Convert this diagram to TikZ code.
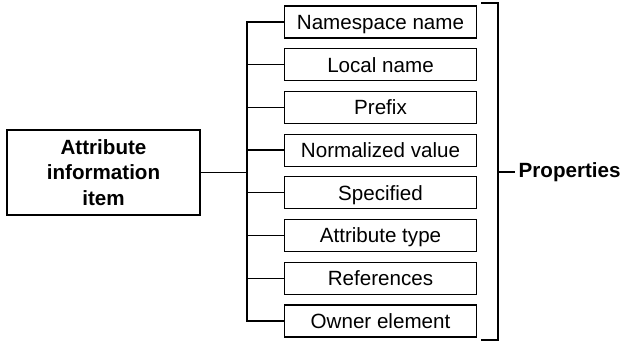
\documentclass[tikz,border=0pt]{standalone}
\usepackage{fontspec}
\setmainfont{Liberation Sans}
\begin{document}
\begin{tikzpicture}[x=1pt,y=-1pt,
  every node/.style={font=\fontsize{20.6}{25.5}\selectfont},
  itembox/.style={draw, line width=1.7pt, minimum width=193pt, minimum height=85pt,
    inner sep=0pt, align=center, font=\fontsize{20.6}{25.5}\selectfont\bfseries},
  propbox/.style={draw, line width=1.2pt, minimum width=192.4pt, minimum height=32pt,
    inner sep=0pt, text height=14.75pt, text depth=0pt},
  link/.style={line width=1.3pt},
  bracket/.style={line width=2pt}]
\useasboundingbox (0,0) rectangle (621,341);

% the item and its list of properties
\node[itembox] (item) at (103.5,172.5) {Attribute\\information\\item};
\foreach \i/\txt in {1/Namespace name, 2/Local name, 3/Prefix, 4/Normalized value,
                     5/Specified, 6/Attribute type, 7/References, 8/Owner element}
  \node[propbox] (p\i) at (380.5,{22+42.7*(\i-1)}) {\txt};

% tree connectors
\coordinate (trunkx) at (247,0);
\draw[link] (item.east) -- (item.east -| trunkx);
\draw[link] (p1.west) -- (p1.west -| trunkx) -- (p8.west -| trunkx) -- (p8.west);
\foreach \i in {2,...,7}
  \draw[link] (p\i.west) -- (p\i.west -| trunkx);

% bracket grouping the properties
\coordinate (brtop) at (481,3);
\coordinate (brbot) at (481,340);
\coordinate (brmid) at (498,172);
\draw[bracket] (brtop) -- (498,3) -- (498,340) -- (brbot);
\node[anchor=west, inner xsep=3.5pt, inner ysep=0pt, font=\fontsize{20.6}{25.5}\selectfont\bfseries]
  (props) at (515,172) {Properties};
\draw[link] (brmid) -- (props.west);
\end{tikzpicture}
\end{document}
